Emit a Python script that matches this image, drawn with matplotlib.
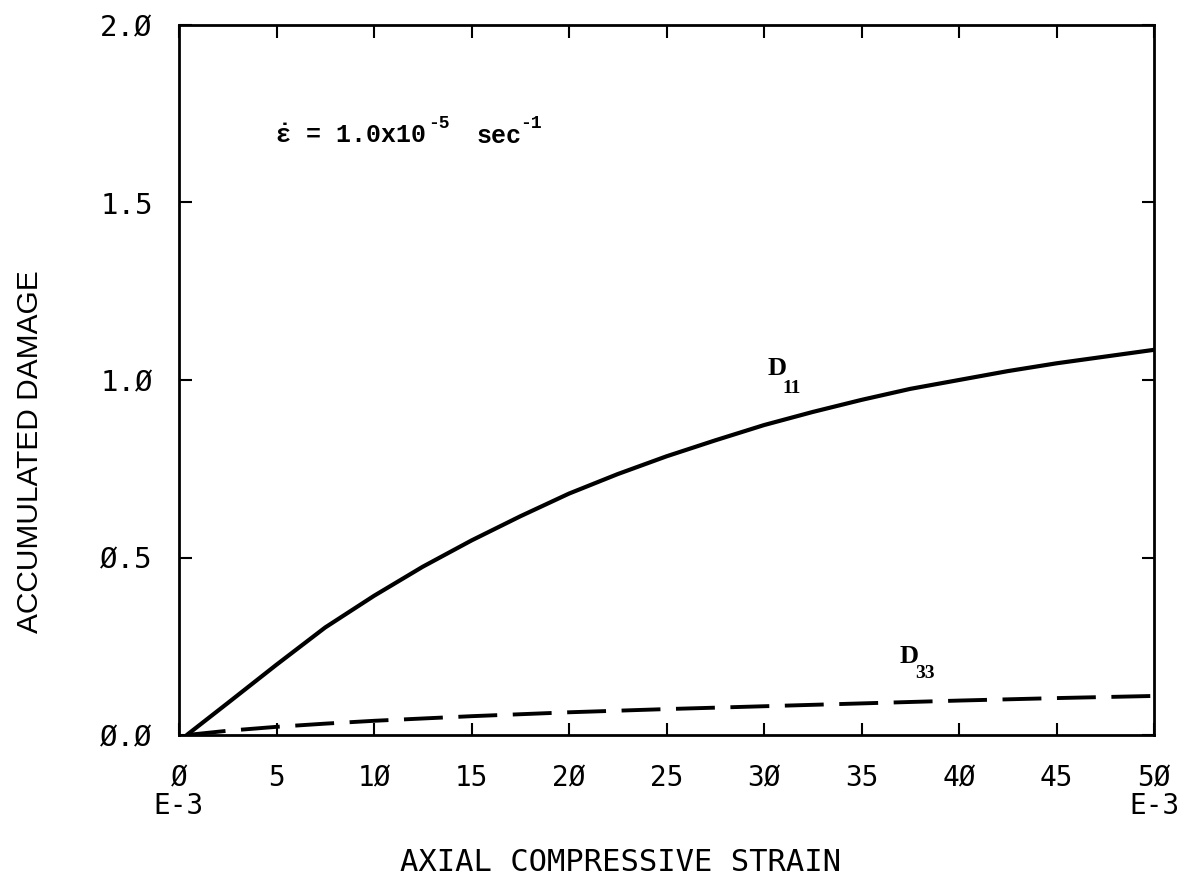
import matplotlib
matplotlib.use("Agg")
import matplotlib.pyplot as plt

# ---- data ----
strain = [0.4, 2.5, 5, 7.5, 10, 12.5, 15, 17.5, 20, 22.5, 25, 27.5, 30, 32.5,
          35, 37.5, 40, 42.5, 45, 47.5, 50]
d11 = [0.0, 0.09, 0.198, 0.303, 0.392, 0.474, 0.548, 0.616, 0.68, 0.735, 0.785,
       0.83, 0.873, 0.91, 0.944, 0.975, 1.0, 1.025, 1.047, 1.066, 1.085]
strain33 = [0.4, 2.5, 5, 7.5, 10, 15, 20, 25, 30, 35, 40, 45, 50]
d33 = [0.0, 0.012, 0.023, 0.032, 0.04, 0.053, 0.064, 0.073, 0.081, 0.089,
       0.097, 0.104, 0.11]
xticks = [0, 5, 10, 15, 20, 25, 30, 35, 40, 45, 50]
xticklabels = ["Ø\nE-3", "5", "1Ø", "15", "2Ø", "25", "3Ø", "35", "4Ø", "45", "5Ø\nE-3"]
yticks = [0.0, 0.5, 1.0, 1.5, 2.0]
yticklabels = ["Ø.Ø", "Ø.5", "1.Ø", "1.5", "2.Ø"]

plt.rcParams['mathtext.fontset'] = 'custom'
plt.rcParams['mathtext.rm'] = 'Liberation Mono:bold'
plt.rcParams['mathtext.bf'] = 'Liberation Mono:bold'
plt.rcParams['mathtext.it'] = 'Liberation Mono:bold'

fig = plt.figure(figsize=(12.02, 8.8), dpi=100)
ax = fig.add_axes([179/1202, 1-735/880, (1154-179)/1202, (735-25)/880])

ax.plot(strain, d11, color='black', lw=3.0, solid_capstyle='round')
ax.plot(strain33, d33, color='black', lw=2.8, linestyle=(0, (10, 4)))

ax.set_xlim(0, 50)
ax.set_ylim(0, 2.0)
ax.set_xticks(xticks)
ax.set_xticklabels(xticklabels, family='DejaVu Sans Mono', fontsize=20, linespacing=1.0)
ax.set_yticks(yticks)
ax.set_yticklabels(yticklabels, family='DejaVu Sans Mono', fontsize=21)
ax.tick_params(axis='both', direction='in', length=9, width=1.5,
               top=True, right=True)
ax.tick_params(axis='y', pad=19)
ax.tick_params(axis='x', pad=21)
for s in ax.spines.values():
    s.set_linewidth(2.0)

fig.text(620/1202, 9/880, "AXIAL COMPRESSIVE STRAIN", family='DejaVu Sans Mono',
         fontsize=22, ha='center', va='baseline')
fig.text(30/1202, 1-452/880, "ACCUMULATED DAMAGE", family='Liberation Sans',
         fontsize=21.5, rotation=90, ha='center', va='center')

fig.text(275/1202, 1-143/880, r'$\dot{\epsilon}$ = 1.0x10', family='Liberation Mono',
         fontweight='bold', fontsize=18, ha='left', va='baseline')
fig.text(428/1202, 1-128/880, '-5', family='Liberation Mono',
         fontweight='bold', fontsize=13, ha='left', va='baseline')
fig.text(477/1202, 1-143/880, 'sec', family='Liberation Mono',
         fontweight='bold', fontsize=18, ha='left', va='baseline')
fig.text(520/1202, 1-128/880, '-1', family='Liberation Mono',
         fontweight='bold', fontsize=13, ha='left', va='baseline')

# curve labels
ax.text(30.2, 1.014, 'D', family='Liberation Serif', fontweight='bold',
        fontsize=19, ha='left', va='baseline')
ax.text(30.97, 0.963, '11', family='Liberation Serif', fontweight='bold',
        fontsize=14, ha='left', va='baseline')
ax.text(36.97, 0.203, 'D', family='Liberation Serif', fontweight='bold',
        fontsize=19, ha='left', va='baseline')
ax.text(37.74, 0.161, '33', family='Liberation Serif', fontweight='bold',
        fontsize=14, ha='left', va='baseline')

fig.savefig("out.png", dpi=100)
